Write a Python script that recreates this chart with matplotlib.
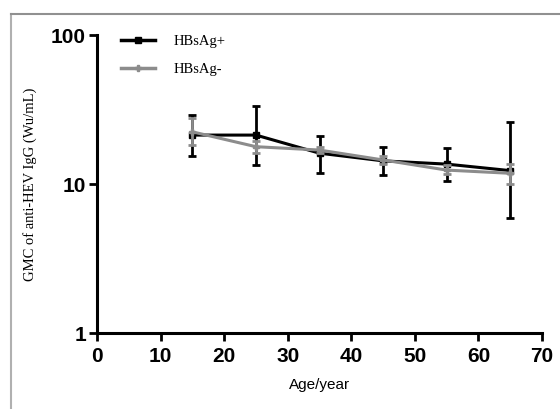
import matplotlib
matplotlib.use("Agg")
import matplotlib.pyplot as plt
from matplotlib.lines import Line2D

ages = [15, 25, 35, 45, 55, 65]
pos_gmc = [21.3, 21.3, 16.1, 14.3, 13.6, 12.3]
pos_hi = [29.0, 33.5, 21.1, 17.6, 17.5, 26.0]
pos_lo = [15.4, 13.4, 11.9, 11.5, 10.5, 5.9]
neg_gmc = [22.4, 17.8, 16.9, 14.5, 12.4, 11.8]
neg_hi = [27.7, 19.5, 17.8, 15.4, 13.5, 13.6]
neg_lo = [18.3, 16.2, 16.1, 13.6, 11.7, 10.0]
labels = ["HBsAg+", "HBsAg-"]
xticks = [0, 10, 20, 30, 40, 50, 60, 70]
yticks = [1, 10, 100]

fig = plt.figure(figsize=(5.6, 4.09), dpi=100)
ax = fig.add_axes([0.1732, 0.1858, 0.7947, 0.7286])

# frame border
fig.add_artist(Line2D([11/560, 11/560], [0, 1-13.5/409], color="#b0b0b0", lw=1.5, transform=fig.transFigure))
fig.add_artist(Line2D([11/560, 1], [1-13.5/409, 1-13.5/409], color="#909090", lw=1.5, transform=fig.transFigure))

black = "#000000"
gray = "#8c8c8c"

def draw(y, lo, hi, color, marker, ms, z):
    yerr = [[a - b for a, b in zip(y, lo)], [b - a for a, b in zip(y, hi)]]
    ax.errorbar(ages, y, yerr=yerr, color=color, lw=2.2, elinewidth=2.0,
                capsize=3, capthick=2.0, marker=marker, ms=ms, zorder=z)

draw(pos_gmc, pos_lo, pos_hi, black, "s", 4, 3)
draw(neg_gmc, neg_lo, neg_hi, gray, "P", 5, 4)

ax.set_yscale("log")
ax.set_xlim(0, 70)
ax.set_ylim(1, 100)
ax.set_xticks(xticks)
ax.set_xticklabels([str(t) for t in xticks])
ax.set_yticks(yticks)
ax.set_yticklabels([str(t) for t in yticks])
ax.yaxis.set_minor_locator(matplotlib.ticker.NullLocator())

for s in ["top", "right"]:
    ax.spines[s].set_visible(False)
for s in ["left", "bottom"]:
    ax.spines[s].set_linewidth(2.2)
ax.tick_params(axis="x", which="major", length=6, width=2, direction="out", pad=4)
ax.tick_params(axis="y", which="major", length=6, width=2, direction="out", pad=2)
for lab in ax.get_xticklabels() + ax.get_yticklabels():
    lab.set_fontfamily("Liberation Sans")
    lab.set_fontweight("bold")
    lab.set_fontsize(15)

ax.set_xlabel("Age/year", fontfamily="Liberation Sans", fontsize=11, labelpad=9)
ax.set_ylabel("GMC of anti-HEV IgG (Wu/mL)", fontfamily="Liberation Serif", fontsize=10.5, labelpad=10)

handles = [Line2D([], [], color=black, lw=2.5, marker="s", ms=4),
           Line2D([], [], color=gray, lw=2.5, marker="P", ms=5)]
leg = ax.legend(handles, labels, loc="upper left", bbox_to_anchor=(0.025, 1.045),
                frameon=False, prop={"family": "Liberation Serif", "size": 10.5},
                handlelength=2.3, labelspacing=1.05, handletextpad=1.3)

fig.savefig("out.png", dpi=100)
